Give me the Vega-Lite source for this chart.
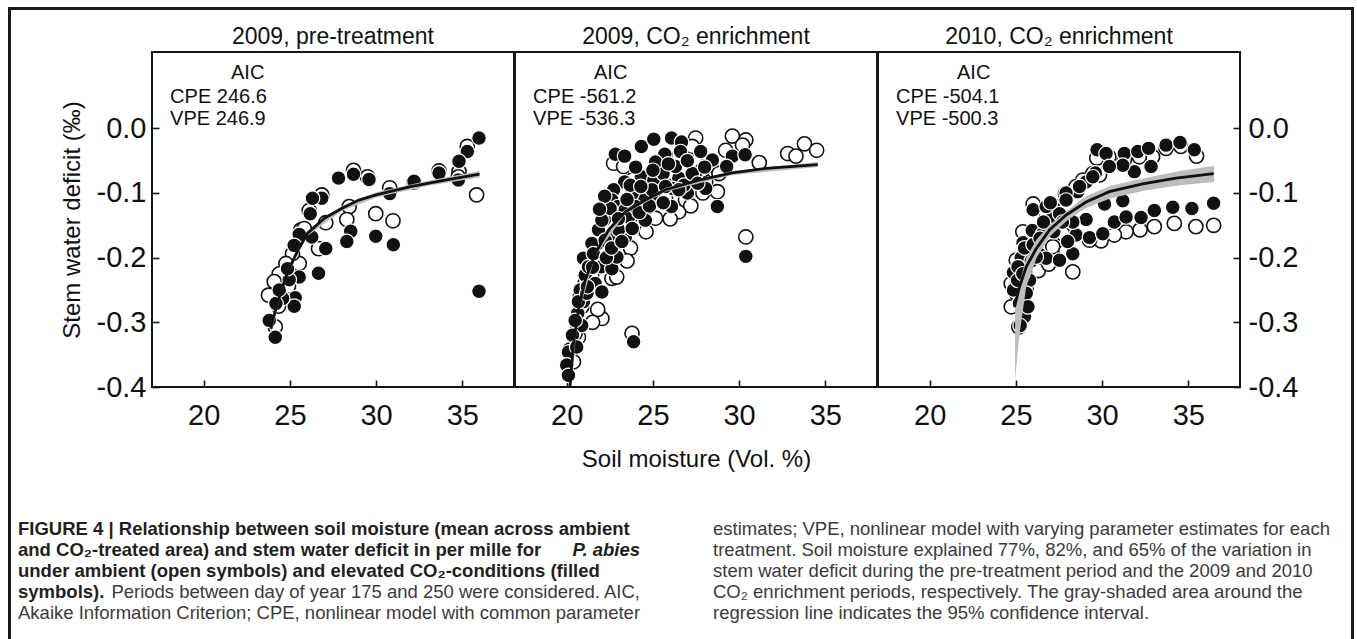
{
  "$schema": "https://vega.github.io/schema/vega-lite/v6.json",
  "padding": {"left": 8, "top": 7, "right": 0, "bottom": 0},
  "background": "white",
  "config": {
    "font": "Liberation Sans",
    "view": {"stroke": "#161616", "strokeWidth": 2},
    "axis": {"grid": false, "domain": false, "ticks": true, "tickColor": "#161616", "tickWidth": 1.6, "tickSize": -7, "labelFont": "Liberation Sans", "labelFontSize": 29, "labelColor": "#111111", "titleFont": "Liberation Sans", "titleFontSize": 24, "titleFontWeight": "normal", "titleColor": "#111111"},
    "title": {"font": "Liberation Sans", "fontSize": 23, "fontWeight": "normal", "color": "#111111", "offset": 3, "baseline": "alphabetic"}
  },
  "datasets": {
    "pts": [
      {"p":1,"g":"a","x":35.83,"y":-0.103},{"p":1,"g":"a","x":34.81,"y":-0.067},{"p":1,"g":"a","x":35.29,"y":-0.028},{"p":1,"g":"a","x":33.65,"y":-0.066},{"p":1,"g":"a","x":32.2,"y":-0.083},{"p":1,"g":"a","x":30.79,"y":-0.092},{"p":1,"g":"a","x":30.98,"y":-0.143},{"p":1,"g":"a","x":29.98,"y":-0.132},{"p":1,"g":"a","x":29.5,"y":-0.075},{"p":1,"g":"a","x":28.69,"y":-0.065},{"p":1,"g":"a","x":28.44,"y":-0.121},{"p":1,"g":"a","x":28.3,"y":-0.141},{"p":1,"g":"a","x":27.08,"y":-0.146},{"p":1,"g":"a","x":26.85,"y":-0.103},{"p":1,"g":"a","x":26.66,"y":-0.186},{"p":1,"g":"a","x":26.12,"y":-0.127},{"p":1,"g":"a","x":25.64,"y":-0.157},{"p":1,"g":"a","x":25.83,"y":-0.155},{"p":1,"g":"a","x":25.54,"y":-0.209},{"p":1,"g":"a","x":25.15,"y":-0.194},{"p":1,"g":"a","x":24.77,"y":-0.209},{"p":1,"g":"a","x":24.38,"y":-0.225},{"p":1,"g":"a","x":24.09,"y":-0.237},{"p":1,"g":"a","x":23.76,"y":-0.258},{"p":1,"g":"a","x":24.34,"y":-0.275},{"p":1,"g":"a","x":24.15,"y":-0.307},{"p":1,"g":"a","x":24.92,"y":-0.244},{"p":1,"g":"a","x":34.77,"y":-0.075},
      {"p":1,"g":"e","x":35.97,"y":-0.015},{"p":1,"g":"e","x":35.29,"y":-0.036},{"p":1,"g":"e","x":34.81,"y":-0.051},{"p":1,"g":"e","x":34.77,"y":-0.080},{"p":1,"g":"e","x":33.65,"y":-0.069},{"p":1,"g":"e","x":32.2,"y":-0.082},{"p":1,"g":"e","x":30.79,"y":-0.101},{"p":1,"g":"e","x":29.59,"y":-0.079},{"p":1,"g":"e","x":28.69,"y":-0.071},{"p":1,"g":"e","x":27.82,"y":-0.077},{"p":1,"g":"e","x":26.85,"y":-0.108},{"p":1,"g":"e","x":26.31,"y":-0.108},{"p":1,"g":"e","x":26.18,"y":-0.132},{"p":1,"g":"e","x":26.27,"y":-0.168},{"p":1,"g":"e","x":25.54,"y":-0.164},{"p":1,"g":"e","x":25.25,"y":-0.181},{"p":1,"g":"e","x":27.08,"y":-0.186},{"p":1,"g":"e","x":28.53,"y":-0.159},{"p":1,"g":"e","x":28.3,"y":-0.175},{"p":1,"g":"e","x":29.98,"y":-0.167},{"p":1,"g":"e","x":31.0,"y":-0.180},{"p":1,"g":"e","x":26.66,"y":-0.224},{"p":1,"g":"e","x":25.54,"y":-0.230},{"p":1,"g":"e","x":24.96,"y":-0.234},{"p":1,"g":"e","x":24.86,"y":-0.217},{"p":1,"g":"e","x":25.31,"y":-0.262},{"p":1,"g":"e","x":25.25,"y":-0.275},{"p":1,"g":"e","x":24.58,"y":-0.263},{"p":1,"g":"e","x":24.19,"y":-0.271},{"p":1,"g":"e","x":23.8,"y":-0.297},{"p":1,"g":"e","x":24.15,"y":-0.323},{"p":1,"g":"e","x":35.97,"y":-0.252},{"p":1,"g":"e","x":24.38,"y":-0.250},
      {"p":2,"g":"a","x":27.48,"y":-0.015},{"p":2,"g":"a","x":29.61,"y":-0.012},{"p":2,"g":"a","x":30.39,"y":-0.018},{"p":2,"g":"a","x":30.2,"y":-0.026},{"p":2,"g":"a","x":32.82,"y":-0.039},{"p":2,"g":"a","x":33.3,"y":-0.043},{"p":2,"g":"a","x":33.79,"y":-0.024},{"p":2,"g":"a","x":34.5,"y":-0.034},{"p":2,"g":"a","x":31.17,"y":-0.053},{"p":2,"g":"a","x":29.22,"y":-0.034},{"p":2,"g":"a","x":28.35,"y":-0.057},{"p":2,"g":"a","x":28.74,"y":-0.098},{"p":2,"g":"a","x":27.48,"y":-0.052},{"p":2,"g":"a","x":22.72,"y":-0.054},{"p":2,"g":"a","x":23.3,"y":-0.059},{"p":2,"g":"a","x":24.56,"y":-0.139},{"p":2,"g":"a","x":25.15,"y":-0.139},{"p":2,"g":"a","x":26.5,"y":-0.129},{"p":2,"g":"a","x":24.17,"y":-0.124},{"p":2,"g":"a","x":30.39,"y":-0.168},{"p":2,"g":"a","x":23.79,"y":-0.317},{"p":2,"g":"a","x":22.04,"y":-0.294},{"p":2,"g":"a","x":22.62,"y":-0.232},{"p":2,"g":"a","x":21.07,"y":-0.240},{"p":2,"g":"a","x":20.68,"y":-0.323},{"p":2,"g":"a","x":20.39,"y":-0.361},{"p":2,"g":"a","x":20.78,"y":-0.261},{"p":2,"g":"a","x":21.84,"y":-0.194},{"p":2,"g":"a","x":23.79,"y":-0.080},{"p":2,"g":"a","x":28.06,"y":-0.083},{"p":2,"g":"a","x":25.73,"y":-0.108},{"p":2,"g":"a","x":26.89,"y":-0.111},{"p":2,"g":"a","x":20.19,"y":-0.343},{"p":2,"g":"a","x":20.49,"y":-0.317},{"p":2,"g":"a","x":20.87,"y":-0.276},{"p":2,"g":"a","x":21.46,"y":-0.225},{"p":2,"g":"a","x":22.23,"y":-0.194},{"p":2,"g":"a","x":23.01,"y":-0.163},{"p":2,"g":"a","x":23.69,"y":-0.137},{"p":2,"g":"a","x":24.76,"y":-0.111},{"p":2,"g":"a","x":26.14,"y":-0.090},{"p":2,"g":"a","x":27.86,"y":-0.065},{"p":2,"g":"a","x":28.83,"y":-0.070},{"p":2,"g":"a","x":25.15,"y":-0.070},{"p":2,"g":"a","x":26.5,"y":-0.044},{"p":2,"g":"a","x":27.28,"y":-0.028},{"p":2,"g":"a","x":22.9,"y":-0.23},{"p":2,"g":"a","x":22.5,"y":-0.2},{"p":2,"g":"a","x":23.7,"y":-0.185},{"p":2,"g":"a","x":24.6,"y":-0.16},{"p":2,"g":"a","x":26.0,"y":-0.14},{"p":2,"g":"a","x":27.2,"y":-0.12},{"p":2,"g":"a","x":27.9,"y":-0.1},{"p":2,"g":"a","x":23.5,"y":-0.205},{"p":2,"g":"a","x":21.8,"y":-0.28},{"p":2,"g":"a","x":21.5,"y":-0.3},
      {"p":2,"g":"e","x":22.82,"y":-0.040},{"p":2,"g":"e","x":23.36,"y":-0.043},{"p":2,"g":"e","x":24.33,"y":-0.028},{"p":2,"g":"e","x":25.05,"y":-0.017},{"p":2,"g":"e","x":26.08,"y":-0.015},{"p":2,"g":"e","x":26.66,"y":-0.021},{"p":2,"g":"e","x":26.6,"y":-0.036},{"p":2,"g":"e","x":27.77,"y":-0.036},{"p":2,"g":"e","x":25.69,"y":-0.040},{"p":2,"g":"e","x":29.61,"y":-0.043},{"p":2,"g":"e","x":30.35,"y":-0.041},{"p":2,"g":"e","x":29.28,"y":-0.059},{"p":2,"g":"e","x":24.33,"y":-0.075},{"p":2,"g":"e","x":25.05,"y":-0.080},{"p":2,"g":"e","x":23.36,"y":-0.083},{"p":2,"g":"e","x":25.59,"y":-0.070},{"p":2,"g":"e","x":26.5,"y":-0.077},{"p":2,"g":"e","x":27.47,"y":-0.072},{"p":2,"g":"e","x":28.06,"y":-0.093},{"p":2,"g":"e","x":27.0,"y":-0.100},{"p":2,"g":"e","x":26.14,"y":-0.093},{"p":2,"g":"e","x":25.1,"y":-0.114},{"p":2,"g":"e","x":26.08,"y":-0.121},{"p":2,"g":"e","x":28.74,"y":-0.121},{"p":2,"g":"e","x":24.37,"y":-0.106},{"p":2,"g":"e","x":23.79,"y":-0.101},{"p":2,"g":"e","x":22.72,"y":-0.095},{"p":2,"g":"e","x":22.62,"y":-0.111},{"p":2,"g":"e","x":22.97,"y":-0.121},{"p":2,"g":"e","x":22.19,"y":-0.141},{"p":2,"g":"e","x":21.84,"y":-0.157},{"p":2,"g":"e","x":22.72,"y":-0.165},{"p":2,"g":"e","x":23.4,"y":-0.168},{"p":2,"g":"e","x":24.56,"y":-0.142},{"p":2,"g":"e","x":20.97,"y":-0.201},{"p":2,"g":"e","x":22.0,"y":-0.214},{"p":2,"g":"e","x":22.62,"y":-0.217},{"p":2,"g":"e","x":21.07,"y":-0.227},{"p":2,"g":"e","x":22.91,"y":-0.199},{"p":2,"g":"e","x":21.65,"y":-0.240},{"p":2,"g":"e","x":22.04,"y":-0.253},{"p":2,"g":"e","x":20.78,"y":-0.250},{"p":2,"g":"e","x":20.97,"y":-0.268},{"p":2,"g":"e","x":20.64,"y":-0.286},{"p":2,"g":"e","x":20.87,"y":-0.305},{"p":2,"g":"e","x":20.33,"y":-0.320},{"p":2,"g":"e","x":20.1,"y":-0.346},{"p":2,"g":"e","x":20.0,"y":-0.366},{"p":2,"g":"e","x":20.1,"y":-0.382},{"p":2,"g":"e","x":23.88,"y":-0.330},{"p":2,"g":"e","x":30.39,"y":-0.198},{"p":2,"g":"e","x":23.4,"y":-0.126},{"p":2,"g":"e","x":21.46,"y":-0.178},{"p":2,"g":"e","x":20.49,"y":-0.297},{"p":2,"g":"e","x":20.58,"y":-0.338},{"p":2,"g":"e","x":21.26,"y":-0.214},{"p":2,"g":"e","x":21.55,"y":-0.194},{"p":2,"g":"e","x":22.23,"y":-0.173},{"p":2,"g":"e","x":23.01,"y":-0.157},{"p":2,"g":"e","x":23.59,"y":-0.137},{"p":2,"g":"e","x":23.98,"y":-0.121},{"p":2,"g":"e","x":24.95,"y":-0.095},{"p":2,"g":"e","x":25.73,"y":-0.090},{"p":2,"g":"e","x":26.8,"y":-0.088},{"p":2,"g":"e","x":27.28,"y":-0.070},{"p":2,"g":"e","x":26.31,"y":-0.059},{"p":2,"g":"e","x":28.45,"y":-0.049},{"p":2,"g":"e","x":25.15,"y":-0.052},{"p":2,"g":"e","x":23.69,"y":-0.088},{"p":2,"g":"e","x":22.52,"y":-0.124},{"p":2,"g":"e","x":22.04,"y":-0.142},{"p":2,"g":"e","x":20.68,"y":-0.268},{"p":2,"g":"e","x":21.17,"y":-0.255},{"p":2,"g":"e","x":21.2,"y":-0.245},{"p":2,"g":"e","x":21.5,"y":-0.215},{"p":2,"g":"e","x":22.3,"y":-0.20},{"p":2,"g":"e","x":22.6,"y":-0.185},{"p":2,"g":"e","x":23.2,"y":-0.175},{"p":2,"g":"e","x":23.0,"y":-0.14},{"p":2,"g":"e","x":23.8,"y":-0.155},{"p":2,"g":"e","x":24.2,"y":-0.13},{"p":2,"g":"e","x":24.8,"y":-0.12},{"p":2,"g":"e","x":25.6,"y":-0.115},{"p":2,"g":"e","x":26.5,"y":-0.095},{"p":2,"g":"e","x":27.6,"y":-0.085},{"p":2,"g":"e","x":24.3,"y":-0.09},{"p":2,"g":"e","x":25.0,"y":-0.065},{"p":2,"g":"e","x":25.9,"y":-0.055},{"p":2,"g":"e","x":27.0,"y":-0.05},{"p":2,"g":"e","x":28.0,"y":-0.06},{"p":2,"g":"e","x":23.5,"y":-0.11},{"p":2,"g":"e","x":22.2,"y":-0.105},{"p":2,"g":"e","x":21.9,"y":-0.125},{"p":2,"g":"e","x":24.0,"y":-0.06},
      {"p":3,"g":"a","x":36.47,"y":-0.150},{"p":3,"g":"a","x":35.44,"y":-0.152},{"p":3,"g":"a","x":34.19,"y":-0.147},{"p":3,"g":"a","x":33.03,"y":-0.152},{"p":3,"g":"a","x":32.2,"y":-0.157},{"p":3,"g":"a","x":31.39,"y":-0.160},{"p":3,"g":"a","x":30.71,"y":-0.165},{"p":3,"g":"a","x":29.94,"y":-0.174},{"p":3,"g":"a","x":29.27,"y":-0.173},{"p":3,"g":"a","x":28.3,"y":-0.222},{"p":3,"g":"a","x":35.48,"y":-0.043},{"p":3,"g":"a","x":34.57,"y":-0.028},{"p":3,"g":"a","x":33.71,"y":-0.031},{"p":3,"g":"a","x":32.93,"y":-0.044},{"p":3,"g":"a","x":32.16,"y":-0.044},{"p":3,"g":"a","x":31.29,"y":-0.049},{"p":3,"g":"a","x":30.39,"y":-0.044},{"p":3,"g":"a","x":29.69,"y":-0.046},{"p":3,"g":"a","x":29.85,"y":-0.072},{"p":3,"g":"a","x":28.88,"y":-0.080},{"p":3,"g":"a","x":27.88,"y":-0.101},{"p":3,"g":"a","x":27.34,"y":-0.121},{"p":3,"g":"a","x":26.0,"y":-0.117},{"p":3,"g":"a","x":26.27,"y":-0.160},{"p":3,"g":"a","x":27.14,"y":-0.183},{"p":3,"g":"a","x":24.73,"y":-0.276},{"p":3,"g":"a","x":25.02,"y":-0.255},{"p":3,"g":"a","x":25.17,"y":-0.307},{"p":3,"g":"a","x":26.76,"y":-0.132},{"p":3,"g":"a","x":28.49,"y":-0.090},{"p":3,"g":"a","x":29.46,"y":-0.070},{"p":3,"g":"a","x":25.02,"y":-0.204},{"p":3,"g":"a","x":24.73,"y":-0.240},{"p":3,"g":"a","x":25.6,"y":-0.250},{"p":3,"g":"a","x":27.72,"y":-0.163},{"p":3,"g":"a","x":25.4,"y":-0.16},{"p":3,"g":"a","x":26.3,"y":-0.22},{"p":3,"g":"a","x":26.9,"y":-0.21},{"p":3,"g":"a","x":27.9,"y":-0.19},
      {"p":3,"g":"e","x":29.71,"y":-0.033},{"p":3,"g":"e","x":30.23,"y":-0.039},{"p":3,"g":"e","x":31.29,"y":-0.039},{"p":3,"g":"e","x":32.07,"y":-0.036},{"p":3,"g":"e","x":32.7,"y":-0.031},{"p":3,"g":"e","x":33.71,"y":-0.026},{"p":3,"g":"e","x":34.52,"y":-0.022},{"p":3,"g":"e","x":35.35,"y":-0.033},{"p":3,"g":"e","x":32.84,"y":-0.059},{"p":3,"g":"e","x":31.87,"y":-0.067},{"p":3,"g":"e","x":31.2,"y":-0.057},{"p":3,"g":"e","x":30.42,"y":-0.059},{"p":3,"g":"e","x":29.61,"y":-0.069},{"p":3,"g":"e","x":29.07,"y":-0.083},{"p":3,"g":"e","x":28.59,"y":-0.098},{"p":3,"g":"e","x":27.91,"y":-0.100},{"p":3,"g":"e","x":27.34,"y":-0.126},{"p":3,"g":"e","x":27.14,"y":-0.136},{"p":3,"g":"e","x":26.0,"y":-0.126},{"p":3,"g":"e","x":25.95,"y":-0.158},{"p":3,"g":"e","x":25.41,"y":-0.177},{"p":3,"g":"e","x":25.31,"y":-0.200},{"p":3,"g":"e","x":25.89,"y":-0.205},{"p":3,"g":"e","x":26.37,"y":-0.195},{"p":3,"g":"e","x":26.76,"y":-0.201},{"p":3,"g":"e","x":27.53,"y":-0.204},{"p":3,"g":"e","x":28.3,"y":-0.194},{"p":3,"g":"e","x":24.86,"y":-0.223},{"p":3,"g":"e","x":25.79,"y":-0.235},{"p":3,"g":"e","x":24.86,"y":-0.250},{"p":3,"g":"e","x":25.21,"y":-0.270},{"p":3,"g":"e","x":25.5,"y":-0.291},{"p":3,"g":"e","x":25.25,"y":-0.305},{"p":3,"g":"e","x":30.14,"y":-0.117},{"p":3,"g":"e","x":31.2,"y":-0.112},{"p":3,"g":"e","x":29.07,"y":-0.141},{"p":3,"g":"e","x":28.49,"y":-0.165},{"p":3,"g":"e","x":29.27,"y":-0.169},{"p":3,"g":"e","x":30.04,"y":-0.163},{"p":3,"g":"e","x":30.71,"y":-0.145},{"p":3,"g":"e","x":31.39,"y":-0.137},{"p":3,"g":"e","x":32.26,"y":-0.138},{"p":3,"g":"e","x":33.03,"y":-0.127},{"p":3,"g":"e","x":34.1,"y":-0.122},{"p":3,"g":"e","x":35.21,"y":-0.124},{"p":3,"g":"e","x":36.47,"y":-0.116},{"p":3,"g":"e","x":26.76,"y":-0.121},{"p":3,"g":"e","x":27.53,"y":-0.132},{"p":3,"g":"e","x":27.91,"y":-0.111},{"p":3,"g":"e","x":28.69,"y":-0.090},{"p":3,"g":"e","x":29.46,"y":-0.075},{"p":3,"g":"e","x":26.56,"y":-0.163},{"p":3,"g":"e","x":26.18,"y":-0.199},{"p":3,"g":"e","x":25.12,"y":-0.214},{"p":3,"g":"e","x":25.6,"y":-0.255},{"p":3,"g":"e","x":25.7,"y":-0.276},{"p":3,"g":"e","x":25.5,"y":-0.185},{"p":3,"g":"e","x":26.0,"y":-0.18},{"p":3,"g":"e","x":26.4,"y":-0.17},{"p":3,"g":"e","x":25.1,"y":-0.235},{"p":3,"g":"e","x":25.4,"y":-0.225},{"p":3,"g":"e","x":26.6,"y":-0.145},{"p":3,"g":"e","x":27.2,"y":-0.16},{"p":3,"g":"e","x":27.0,"y":-0.115},{"p":3,"g":"e","x":28.0,"y":-0.175},{"p":3,"g":"e","x":28.3,"y":-0.145},{"p":3,"g":"e","x":27.7,"y":-0.145}
    ],
    "fit": [
      {"p":1,"x":23.9,"y":-0.31},{"p":1,"x":24.0,"y":-0.297},{"p":1,"x":24.5,"y":-0.25},{"p":1,"x":25.0,"y":-0.214},{"p":1,"x":25.5,"y":-0.187},{"p":1,"x":26.0,"y":-0.163},{"p":1,"x":27.0,"y":-0.139},{"p":1,"x":28.0,"y":-0.124},{"p":1,"x":29.0,"y":-0.111},{"p":1,"x":30.0,"y":-0.103},{"p":1,"x":32.0,"y":-0.090},{"p":1,"x":34.0,"y":-0.080},{"p":1,"x":36.0,"y":-0.071},
      {"p":2,"x":20.19,"y":-0.40},{"p":2,"x":20.39,"y":-0.333},{"p":2,"x":20.68,"y":-0.281},{"p":2,"x":21.07,"y":-0.235},{"p":2,"x":21.65,"y":-0.194},{"p":2,"x":22.43,"y":-0.157},{"p":2,"x":23.4,"y":-0.129},{"p":2,"x":24.56,"y":-0.111},{"p":2,"x":25.73,"y":-0.095},{"p":2,"x":27.67,"y":-0.080},{"p":2,"x":29.61,"y":-0.069},{"p":2,"x":31.55,"y":-0.062},{"p":2,"x":34.56,"y":-0.056},
      {"p":3,"x":24.92,"y":-0.276},{"p":3,"x":25.21,"y":-0.245},{"p":3,"x":25.6,"y":-0.214},{"p":3,"x":26.18,"y":-0.186},{"p":3,"x":26.95,"y":-0.157},{"p":3,"x":27.92,"y":-0.134},{"p":3,"x":29.07,"y":-0.114},{"p":3,"x":30.42,"y":-0.098},{"p":3,"x":32.36,"y":-0.086},{"p":3,"x":34.29,"y":-0.077},{"p":3,"x":36.47,"y":-0.070}
    ],
    "band": [
      {"p":1,"x":23.9,"y":-0.318,"y2":-0.302},{"p":1,"x":24.5,"y":-0.256,"y2":-0.244},{"p":1,"x":25.0,"y":-0.219,"y2":-0.209},{"p":1,"x":26.0,"y":-0.167,"y2":-0.159},{"p":1,"x":28.0,"y":-0.128,"y2":-0.120},{"p":1,"x":30.0,"y":-0.107,"y2":-0.099},{"p":1,"x":33.0,"y":-0.089,"y2":-0.081},{"p":1,"x":36.0,"y":-0.076,"y2":-0.066},
      {"p":2,"x":20.19,"y":-0.41,"y2":-0.39},{"p":2,"x":20.68,"y":-0.287,"y2":-0.275},{"p":2,"x":21.65,"y":-0.198,"y2":-0.190},{"p":2,"x":23.4,"y":-0.132,"y2":-0.126},{"p":2,"x":25.73,"y":-0.098,"y2":-0.092},{"p":2,"x":29.61,"y":-0.072,"y2":-0.066},{"p":2,"x":34.56,"y":-0.060,"y2":-0.052},
      {"p":3,"x":24.95,"y":-0.39,"y2":-0.27},{"p":3,"x":25.2,"y":-0.32,"y2":-0.24},{"p":3,"x":25.6,"y":-0.245,"y2":-0.200},{"p":3,"x":26.2,"y":-0.200,"y2":-0.172},{"p":3,"x":27.0,"y":-0.166,"y2":-0.148},{"p":3,"x":28.0,"y":-0.142,"y2":-0.127},{"p":3,"x":29.0,"y":-0.124,"y2":-0.106},{"p":3,"x":30.5,"y":-0.108,"y2":-0.089},{"p":3,"x":32.5,"y":-0.096,"y2":-0.077},{"p":3,"x":34.5,"y":-0.088,"y2":-0.066},{"p":3,"x":36.5,"y":-0.083,"y2":-0.058}
    ],
    "aic": [
      {"p":1,"k":"c","x":22.55,"y":0.085,"t":"AIC"},{"p":1,"k":"l","x":18.05,"y":0.049,"t":"CPE 246.6"},{"p":1,"k":"l","x":18.05,"y":0.0145,"t":"VPE 246.9"},
      {"p":2,"k":"c","x":22.55,"y":0.085,"t":"AIC"},{"p":2,"k":"l","x":18.05,"y":0.049,"t":"CPE -561.2"},{"p":2,"k":"l","x":18.05,"y":0.0145,"t":"VPE -536.3"},
      {"p":3,"k":"c","x":22.55,"y":0.085,"t":"AIC"},{"p":3,"k":"l","x":18.05,"y":0.049,"t":"CPE -504.1"},{"p":3,"k":"l","x":18.05,"y":0.0145,"t":"VPE -500.3"}
    ],
    "cap": [
      {"k":"bl","x":7,"y":17,"t":"FIGURE 4 | Relationship between soil moisture (mean across ambient"},
      {"k":"bl","x":7,"y":38,"t":"and CO₂-treated area) and stem water deficit in per mille for"},
      {"k":"bir","x":629,"y":38,"t":"P. abies"},
      {"k":"bl","x":7,"y":59,"t":"under ambient (open symbols) and elevated CO₂-conditions (filled"},
      {"k":"bl","x":7,"y":80,"t":"symbols)."},
      {"k":"rr","x":629,"y":80,"t":"Periods between day of year 175 and 250 were considered. AIC,"},
      {"k":"rl","x":7,"y":101,"t":"Akaike Information Criterion; CPE, nonlinear model with common parameter"},
      {"k":"rl","x":702,"y":17,"t":"estimates; VPE, nonlinear model with varying parameter estimates for each"},
      {"k":"rl","x":702,"y":38,"t":"treatment. Soil moisture explained 77%, 82%, and 65% of the variation in"},
      {"k":"rl","x":702,"y":59,"t":"stem water deficit during the pre-treatment period and the 2009 and 2010"},
      {"k":"rl","x":702,"y":80,"t":"CO₂ enrichment periods, respectively. The gray-shaded area around the"},
      {"k":"rl","x":702,"y":101,"t":"regression line indicates the 95% confidence interval."}
    ]
  },
  "spacing": 0,
  "vconcat": [
    {"width": 1346, "height": 3, "view": {"fill": "#1a1a1a", "stroke": null}, "data": {"values": [{"d": 0}]}, "mark": {"type": "point", "size": 0, "strokeWidth": 0, "opacity": 0}},
    {
      "spacing": 0,
      "hconcat": [
        {"width": 3, "height": 629, "view": {"fill": "#1a1a1a", "stroke": null}, "data": {"values": [{"d": 0}]}, "mark": {"type": "point", "size": 0, "strokeWidth": 0, "opacity": 0}},
        {
          "spacing": 14,
          "vconcat": [
            {"width": 1, "height": 1, "view": {"stroke": null}, "data": {"values": [{"d": 0}]}, "mark": {"type": "point", "size": 0, "strokeWidth": 0, "opacity": 0}},
            {
              "spacing": 40,
              "vconcat": [
                {
                  "spacing": 47,
                  "hconcat": [
                    {"width": 1, "height": 1, "view": {"stroke": null}, "data": {"values": [{"d": 0}]}, "mark": {"type": "point", "size": 0, "strokeWidth": 0, "opacity": 0}},
                    {
                      "spacing": -2,
                      "hconcat": [
                        {
                          "width": 362, "height": 335,
                          "title": {"text": "2009, pre-treatment"},
                          "encoding": {
                            "x": {"field": "x", "type": "quantitative", "scale": {"domain": [17, 38], "nice": false, "zero": false}, "axis": {"values": [20, 25, 30, 35], "title": null, "labelPadding": 21}},
                            "y": {"field": "y", "type": "quantitative", "scale": {"domain": [-0.4, 0.118], "nice": false, "zero": false}, "axis": {"values": [-0.4, -0.3, -0.2, -0.1, 0], "title": "Stem water deficit (‰)", "labelExpr": "replace(format(datum.value, '.1f'), '−', '-')", "labelPadding": 13, "titlePadding": 12}}
                          },
                          "layer": [
                            {"data": {"name": "pts"}, "transform": [{"filter": "datum.p == 1 && datum.g == 'a'"}], "mark": {"type": "point", "shape": "circle", "filled": true, "fill": "#ffffff", "stroke": "#111111", "strokeWidth": 1.6, "size": 200, "opacity": 1}},
                            {"data": {"name": "pts"}, "transform": [{"filter": "datum.p == 1 && datum.g == 'e'"}], "mark": {"type": "point", "shape": "circle", "filled": true, "fill": "#111111", "stroke": "#ffffff", "strokeWidth": 1.2, "size": 215, "opacity": 1}},
                            {"data": {"name": "band"}, "transform": [{"filter": "datum.p == 1"}], "mark": {"type": "area", "color": "#bdbdbd", "opacity": 1, "clip": true}, "encoding": {"y2": {"field": "y2"}}},
                            {"data": {"name": "fit"}, "transform": [{"filter": "datum.p == 1"}], "mark": {"type": "line", "color": "#111111", "strokeWidth": 2.8, "clip": true}},
                            {"data": {"name": "aic"}, "transform": [{"filter": "datum.p == 1 && datum.k == 'c'"}], "mark": {"type": "text", "align": "center", "baseline": "middle", "fontSize": 20, "color": "#111111"}, "encoding": {"text": {"field": "t"}}},
                            {"data": {"name": "aic"}, "transform": [{"filter": "datum.p == 1 && datum.k == 'l'"}], "mark": {"type": "text", "align": "left", "baseline": "middle", "fontSize": 20, "color": "#111111"}, "encoding": {"text": {"field": "t"}}}
                          ]
                        },
                        {
                          "width": 362, "height": 335,
                          "title": {"text": "2009, CO₂ enrichment"},
                          "encoding": {
                            "x": {"field": "x", "type": "quantitative", "scale": {"domain": [17, 38], "nice": false, "zero": false}, "axis": {"values": [20, 25, 30, 35], "title": "Soil moisture (Vol. %)", "labelPadding": 21, "titlePadding": 17}},
                            "y": {"field": "y", "type": "quantitative", "scale": {"domain": [-0.4, 0.118], "nice": false, "zero": false}, "axis": null}
                          },
                          "layer": [
                            {"data": {"name": "pts"}, "transform": [{"filter": "datum.p == 2 && datum.g == 'a'"}], "mark": {"type": "point", "shape": "circle", "filled": true, "fill": "#ffffff", "stroke": "#111111", "strokeWidth": 1.6, "size": 200, "opacity": 1}},
                            {"data": {"name": "pts"}, "transform": [{"filter": "datum.p == 2 && datum.g == 'e'"}], "mark": {"type": "point", "shape": "circle", "filled": true, "fill": "#111111", "stroke": "#ffffff", "strokeWidth": 1.2, "size": 215, "opacity": 1}},
                            {"data": {"name": "band"}, "transform": [{"filter": "datum.p == 2"}], "mark": {"type": "area", "color": "#bdbdbd", "opacity": 1, "clip": true}, "encoding": {"y2": {"field": "y2"}}},
                            {"data": {"name": "fit"}, "transform": [{"filter": "datum.p == 2"}], "mark": {"type": "line", "color": "#111111", "strokeWidth": 2.8, "clip": true}},
                            {"data": {"name": "aic"}, "transform": [{"filter": "datum.p == 2 && datum.k == 'c'"}], "mark": {"type": "text", "align": "center", "baseline": "middle", "fontSize": 20, "color": "#111111"}, "encoding": {"text": {"field": "t"}}},
                            {"data": {"name": "aic"}, "transform": [{"filter": "datum.p == 2 && datum.k == 'l'"}], "mark": {"type": "text", "align": "left", "baseline": "middle", "fontSize": 20, "color": "#111111"}, "encoding": {"text": {"field": "t"}}}
                          ]
                        },
                        {
                          "width": 362, "height": 335,
                          "title": {"text": "2010, CO₂ enrichment"},
                          "encoding": {
                            "x": {"field": "x", "type": "quantitative", "scale": {"domain": [17, 38], "nice": false, "zero": false}, "axis": {"values": [20, 25, 30, 35], "title": null, "labelPadding": 21}},
                            "y": {"field": "y", "type": "quantitative", "scale": {"domain": [-0.4, 0.118], "nice": false, "zero": false}, "axis": {"orient": "right", "values": [-0.4, -0.3, -0.2, -0.1, 0], "title": null, "labelExpr": "replace(format(datum.value, '.1f'), '−', '-')", "labelPadding": 15}}
                          },
                          "layer": [
                            {"data": {"name": "pts"}, "transform": [{"filter": "datum.p == 3 && datum.g == 'a'"}], "mark": {"type": "point", "shape": "circle", "filled": true, "fill": "#ffffff", "stroke": "#111111", "strokeWidth": 1.6, "size": 200, "opacity": 1}},
                            {"data": {"name": "pts"}, "transform": [{"filter": "datum.p == 3 && datum.g == 'e'"}], "mark": {"type": "point", "shape": "circle", "filled": true, "fill": "#111111", "stroke": "#ffffff", "strokeWidth": 1.2, "size": 215, "opacity": 1}},
                            {"data": {"name": "band"}, "transform": [{"filter": "datum.p == 3"}], "mark": {"type": "area", "color": "#bdbdbd", "opacity": 1, "clip": true}, "encoding": {"y2": {"field": "y2"}}},
                            {"data": {"name": "fit"}, "transform": [{"filter": "datum.p == 3"}], "mark": {"type": "line", "color": "#111111", "strokeWidth": 2.8, "clip": true}},
                            {"data": {"name": "aic"}, "transform": [{"filter": "datum.p == 3 && datum.k == 'c'"}], "mark": {"type": "text", "align": "center", "baseline": "middle", "fontSize": 20, "color": "#111111"}, "encoding": {"text": {"field": "t"}}},
                            {"data": {"name": "aic"}, "transform": [{"filter": "datum.p == 3 && datum.k == 'l'"}], "mark": {"type": "text", "align": "left", "baseline": "middle", "fontSize": 20, "color": "#111111"}, "encoding": {"text": {"field": "t"}}}
                          ]
                        }
                      ]
                    }
                  ]
                },
                {
                  "width": 1340, "height": 118,
                  "view": {"stroke": null},
                  "data": {"name": "cap"},
                  "encoding": {
                    "x": {"field": "x", "type": "quantitative", "scale": {"domain": [0, 1340], "nice": false, "zero": false}, "axis": null},
                    "y": {"field": "y", "type": "quantitative", "scale": {"domain": [0, 118], "nice": false, "zero": false, "reverse": true}, "axis": null},
                    "text": {"field": "t"}
                  },
                  "layer": [
                    {"transform": [{"filter": "datum.k == 'bl'"}], "mark": {"type": "text", "align": "left", "baseline": "middle", "fontSize": 18.5, "fontWeight": "bold", "color": "#231f20"}},
                    {"transform": [{"filter": "datum.k == 'bir'"}], "mark": {"type": "text", "align": "right", "baseline": "middle", "fontSize": 18.5, "fontWeight": "bold", "fontStyle": "italic", "color": "#231f20"}},
                    {"transform": [{"filter": "datum.k == 'rl'"}], "mark": {"type": "text", "align": "left", "baseline": "middle", "fontSize": 18.5, "color": "#3a3a3a"}},
                    {"transform": [{"filter": "datum.k == 'rr'"}], "mark": {"type": "text", "align": "right", "baseline": "middle", "fontSize": 18.5, "color": "#3a3a3a"}}
                  ]
                }
              ]
            }
          ]
        },
        {"width": 3, "height": 629, "view": {"fill": "#1a1a1a", "stroke": null}, "data": {"values": [{"d": 0}]}, "mark": {"type": "point", "size": 0, "strokeWidth": 0, "opacity": 0}}
      ]
    }
  ]
}
